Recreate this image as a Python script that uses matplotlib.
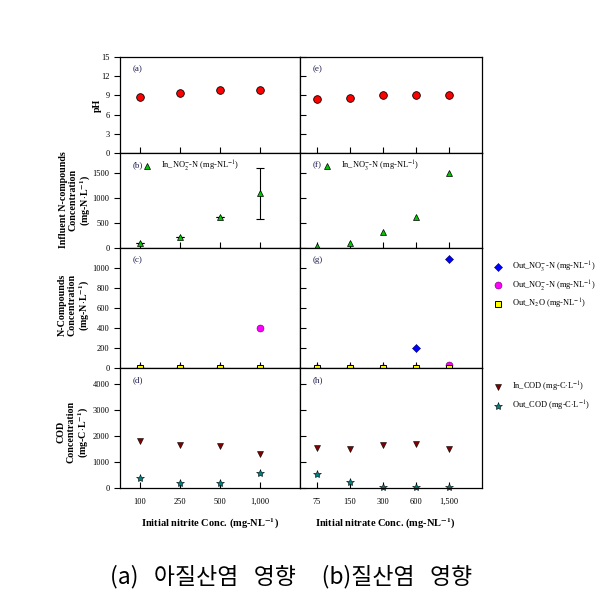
"""Effect of nitrite / nitrate loading: pH, N-compounds and COD panels."""

import matplotlib
matplotlib.use("Agg")
import matplotlib.pyplot as plt

plt.rcParams["font.family"] = ["Liberation Serif", "DejaVu Serif"]
plt.rcParams["mathtext.fontset"] = "stix"

# ---- data ----
nitrite_conc = ["100", "250", "500", "1,000"]
nitrate_conc = ["75", "150", "300", "600", "1,500"]

ph_nitrite = [8.7, 9.3, 9.8, 9.8]
ph_nitrate = [8.4, 8.6, 9.1, 9.0, 9.0]

in_no2 = [100, 230, 620, 1100]
in_no2_err = [0, 0, 0, 510]
in_no3 = [50, 100, 330, 620, 1500]

out_no3_a = [0, 0, 0, 0]
out_no2_a = [0, 0, 0, 400]
out_n2o_a = [0, 0, 0, 0]
out_no3_b = [0, 0, 0, 200, 1090]
out_no2_b = [0, 0, 0, 0, 30]
out_n2o_b = [0, 0, 0, 0, 0]

in_cod_a = [1800, 1650, 1620, 1300]
out_cod_a = [400, 200, 200, 560]
in_cod_b = [1540, 1490, 1640, 1700, 1490]
out_cod_b = [540, 220, 30, 30, 30]

W, H = 607, 602
fig = plt.figure(figsize=(W / 100, H / 100), dpi=100)


def px_axes(x0, x1, y0, y1):
    """Axes from pixel box (top-left origin)."""
    return fig.add_axes([x0 / W, 1 - y1 / H, (x1 - x0) / W, (y1 - y0) / H])


rows = [(57, 153), (153, 248), (248, 368), (368, 488)]
ylims = [(0, 15), (0, 1900), (0, 1200), (0, 4600)]
yticks = [range(0, 16, 3), range(0, 1501, 500), range(0, 1001, 200), range(0, 4001, 1000)]

axes_l, axes_r = [], []
for (y0, y1), yl, yt in zip(rows, ylims, yticks):
    al = px_axes(120, 300, y0, y1)
    ar = px_axes(300, 482, y0, y1)
    al.set_xlim(0.5, 5.0)
    ar.set_xlim(0.5, 6.0)
    for ax in (al, ar):
        ax.set_ylim(*yl)
        ax.set_yticks(list(yt))
        ax.tick_params(axis="x", direction="in", length=4, width=0.8, labelsize=6)
        ax.tick_params(axis="y", length=4, width=0.8, labelsize=6)
        for s in ax.spines.values():
            s.set_linewidth(0.9)
    al.tick_params(axis="y", direction="out")
    ar.tick_params(axis="y", direction="in", labelleft=False)
    al.set_xticks(range(1, len(nitrite_conc) + 1))
    ar.set_xticks(range(1, len(nitrate_conc) + 1))
    al.set_xticklabels([])
    ar.set_xticklabels([])
    axes_l.append(al)
    axes_r.append(ar)

xa = list(range(1, len(nitrite_conc) + 1))
xb = list(range(1, len(nitrate_conc) + 1))

# panel letters
for ax, lab in zip(axes_l + axes_r, ["(a)", "(b)", "(c)", "(d)", "(e)", "(f)", "(g)", "(h)"]):
    w = 180 if ax in axes_l else 182
    ax.text(13 / w, 1 - 12 / ax.bbox.height, lab, transform=ax.transAxes,
            fontsize=6.5, color="#1c1c50", va="center", ha="left")

leg_kw = dict(frameon=False, fontsize=6, borderpad=0, borderaxespad=0,
              handlelength=1.5, handletextpad=0.9)

# row 1: pH
for ax, x, y in ((axes_l[0], xa, ph_nitrite), (axes_r[0], xb, ph_nitrate)):
    ax.plot(x, y, "o", ms=5.5, mfc="#ff0000", mec="black", mew=0.6, ls="none")

# row 2: influent N
axes_l[1].errorbar(xa, in_no2, yerr=in_no2_err, fmt="none", ecolor="black",
                   elinewidth=0.8, capsize=3, capthick=0.8)
axes_l[1].plot(xa, in_no2, "^", ms=5, mfc="#00c800", mec="black", mew=0.5, ls="none",
               label=r"In_NO$_2^{-}$-N (mg-NL$^{-1}$)")
axes_r[1].plot(xb, in_no3, "^", ms=5, mfc="#00c800", mec="black", mew=0.5, ls="none",
               label=r"In_NO$_3^{-}$-N (mg-NL$^{-1}$)")
for ax, w in ((axes_l[1], 180), (axes_r[1], 182)):
    ax.legend(loc="center left", bbox_to_anchor=(21 / w, (248 - 166) / 95), **leg_kw)

# row 3: effluent N
for ax, x, no3, no2, n2o in ((axes_l[2], xa, out_no3_a, out_no2_a, out_n2o_a),
                             (axes_r[2], xb, out_no3_b, out_no2_b, out_n2o_b)):
    ax.plot(x, no3, "D", ms=4.5, mfc="#0000ff", mec="#000060", mew=0.4, ls="none",
            clip_on=False, label=r"Out_NO$_3^{-}$-N (mg-NL$^{-1}$)")
    ax.plot(x, no2, "o", ms=5, mfc="#ff00ff", mec="#600060", mew=0.4, ls="none",
            clip_on=False, label=r"Out_NO$_2^{-}$-N (mg-NL$^{-1}$)")
    ax.plot(x, n2o, "s", ms=5, mfc="#ffff00", mec="black", mew=0.7, ls="none",
            clip_on=False, zorder=5, label=r"Out_N$_2$O (mg-NL$^{-1}$)")
axes_r[2].legend(loc="upper left", bbox_to_anchor=(1.055, 0.9), labelspacing=0.5, **leg_kw)

# row 4: COD
for ax, x, cin, cout in ((axes_l[3], xa, in_cod_a, out_cod_a), (axes_r[3], xb, in_cod_b, out_cod_b)):
    ax.plot(x, cin, "v", ms=5, mfc="#800000", mec="black", mew=0.4, ls="none",
            label=r"In_COD (mg-C$\cdot$L$^{-1}$)")
    ax.plot(x, cout, "*", ms=6, mfc="#008080", mec="black", mew=0.4, ls="none",
            clip_on=False, label=r"Out_COD (mg-C$\cdot$L$^{-1}$)")
axes_r[3].legend(loc="upper left", bbox_to_anchor=(1.055, 0.9), labelspacing=0.55, **leg_kw)

axes_l[3].set_xticklabels(nitrite_conc)
axes_r[3].set_xticklabels(nitrate_conc)
axes_l[3].tick_params(axis="x", pad=7)
axes_r[3].tick_params(axis="x", pad=7)
axes_l[3].set_xlabel(r"Initial nitrite Conc. (mg-NL$^{\mathbf{-1}}$)", fontsize=7.5,
                     fontweight="bold")
axes_r[3].set_xlabel(r"Initial nitrate Conc. (mg-NL$^{\mathbf{-1}}$)", fontsize=7.5,
                     fontweight="bold")
axes_l[3].xaxis.set_label_coords((210 - 120) / 180, -0.235)
axes_r[3].xaxis.set_label_coords((385 - 300) / 182, -0.235)

# y labels
ylabels = [
    (97, 105, "pH"),
    (76, 200, "Influent N-compounds\nConcentration\n" + r"(mg-N$\cdot$L$^{\mathbf{-1}}$)"),
    (75, 305, "N-Compounds\nConcentration\n" + r"(mg-N$\cdot$L$^{\mathbf{-1}}$)"),
    (74, 432, "COD\nConcentration\n" + r"(mg-C$\cdot$L$^{\mathbf{-1}}$)"),
]
for x, y, s in ylabels:
    fig.text(x / W, 1 - y / H, s, rotation=90, ha="center", va="center", fontsize=7.2,
             fontweight="bold", multialignment="center", linespacing=1.1)

# Korean caption
fig.text(291 / W, 1 - 577 / H, "(a)   아질산염   영향     (b)질산염   영향",
         family=["Noto Sans CJK KR", "DejaVu Sans"], fontsize=16.5, ha="center", va="center")

fig.savefig("out.png", dpi=100)
